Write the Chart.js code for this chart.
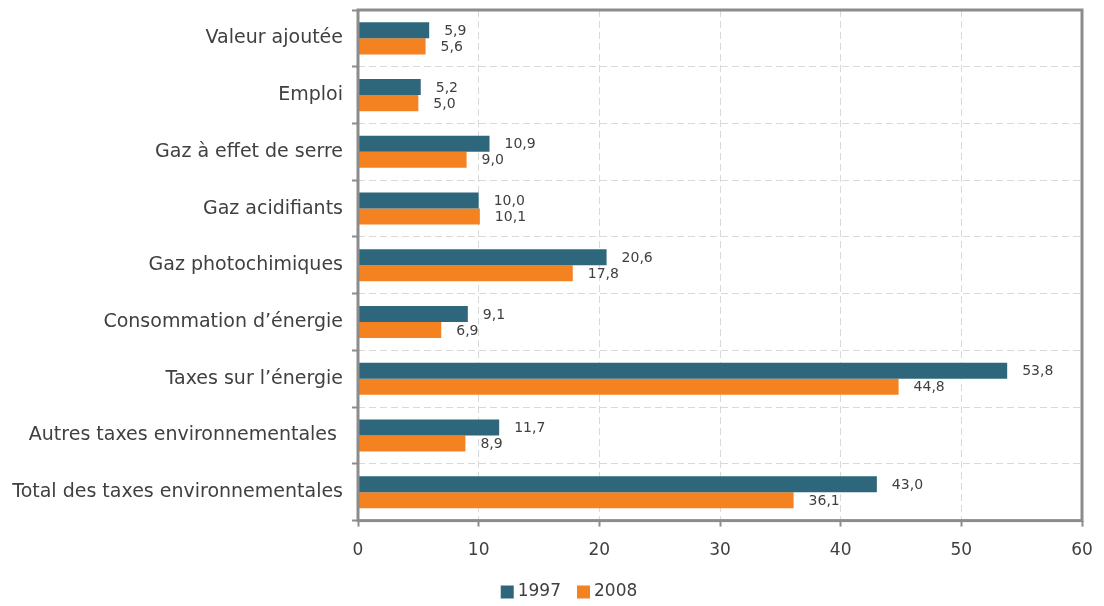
<!DOCTYPE html>
<html>
<head>
<meta charset="utf-8">
<script src="https://cdn.jsdelivr.net/npm/chart.js@4/dist/chart.umd.min.js"></script>
<style>
  html, body { margin: 0; padding: 0; background: #fff; }
  #wrap { width: 1104px; height: 606px; }
</style>
</head>
<body>
<div id="wrap"><canvas id="c" width="1104" height="606"></canvas></div>
<script>
const categories = [
  "Valeur ajoutée",
  "Emploi",
  "Gaz à effet de serre",
  "Gaz acidifiants",
  "Gaz photochimiques",
  "Consommation d’énergie",
  "Taxes sur l’énergie",
  "Autres taxes environnementales ",
  "Total des taxes environnementales"
];
const series1997 = [5.9, 5.2, 10.9, 10.0, 20.6, 9.1, 53.8, 11.7, 43.0];
const series2008 = [5.6, 5.0, 9.0, 10.1, 17.8, 6.9, 44.8, 8.9, 36.1];
const seriesNames = ["1997", "2008"];
const seriesColors = ["#2e677c", "#f58220"];
const xTicks = [0, 10, 20, 30, 40, 50, 60];

const FONT = "'DejaVu Sans', sans-serif";
const TEXT = "#404040";
const FRAME = "#8c8c8c";

const valueLabels = {
  id: 'valueLabels',
  afterDatasetsDraw(chart) {
    const ctx = chart.ctx;
    ctx.save();
    ctx.font = "14px " + FONT;
    ctx.fillStyle = TEXT;
    ctx.textBaseline = 'middle';
    ctx.textAlign = 'left';
    chart.data.datasets.forEach((ds, di) => {
      const meta = chart.getDatasetMeta(di);
      meta.data.forEach((bar, i) => {
        const txt = ds.data[i].toFixed(1).replace('.', ',');
        ctx.fillText(txt, bar.x + 15, bar.y + 1);
      });
    });
    ctx.restore();
  }
};

const frame = {
  id: 'frame',
  afterDraw(chart) {
    const a = chart.chartArea;
    const ctx = chart.ctx;
    ctx.save();
    ctx.strokeStyle = FRAME;
    ctx.lineWidth = 3;
    ctx.strokeRect(a.left, a.top, a.right - a.left, a.bottom - a.top);
    ctx.restore();
  }
};

const customLegend = {
  id: 'customLegend',
  afterDraw(chart) {
    const ctx = chart.ctx;
    ctx.save();
    ctx.font = "17px " + FONT;
    ctx.textBaseline = 'middle';
    ctx.textAlign = 'left';
    const box = 13, gapText = 4, gapItem = 16;
    const ds = chart.data.datasets;
    let total = 0;
    ds.forEach((d, i) => {
      total += box + gapText + ctx.measureText(d.label).width;
      if (i < ds.length - 1) total += gapItem;
    });
    const cx = 569, cy = 592;
    let x = cx - total / 2;
    ds.forEach((d) => {
      ctx.fillStyle = d.backgroundColor;
      ctx.fillRect(x, cy - box / 2, box, box);
      x += box + gapText;
      ctx.fillStyle = TEXT;
      ctx.fillText(d.label, x, cy);
      x += ctx.measureText(d.label).width + gapItem;
    });
    ctx.restore();
  }
};

new Chart(document.getElementById('c'), {
  type: 'bar',
  data: {
    labels: categories,
    datasets: [
      { label: seriesNames[0], data: series1997, backgroundColor: seriesColors[0], categoryPercentage: 0.565, barPercentage: 1.0 },
      { label: seriesNames[1], data: series2008, backgroundColor: seriesColors[1], categoryPercentage: 0.565, barPercentage: 1.0 }
    ]
  },
  options: {
    indexAxis: 'y',
    responsive: false,
    animation: false,
    devicePixelRatio: 1,
    layout: { padding: { left: 8, right: 22, top: 10, bottom: 31 } },
    plugins: {
      legend: { display: false },
      tooltip: { enabled: false }
    },
    scales: {
      x: {
        min: 0, max: 60,
        afterBuildTicks(scale) { scale.ticks = xTicks.map(v => ({ value: v })); },
        afterFit(scale) { scale.paddingLeft = 0; scale.paddingRight = 0; },
        ticks: { font: { family: FONT, size: 17 }, color: TEXT, padding: 14 },
        grid: { color: '#d9d9d9', tickColor: FRAME, tickLength: 6, tickWidth: 2, tickBorderDash: [] },
        border: { display: false, dash: [7, 4] }
      },
      y: {
        afterFit(scale) { scale.width = 350; scale.paddingTop = 0; scale.paddingBottom = 0; },
        ticks: { font: { family: FONT, size: 19 }, color: TEXT, padding: 9 },
        grid: { color: '#d9d9d9', tickColor: FRAME, tickLength: 6, tickWidth: 2, tickBorderDash: [], offset: true },
        border: { display: false, dash: [7, 4] }
      }
    }
  },
  plugins: [valueLabels, frame, customLegend]
});
</script>
</body>
</html>
